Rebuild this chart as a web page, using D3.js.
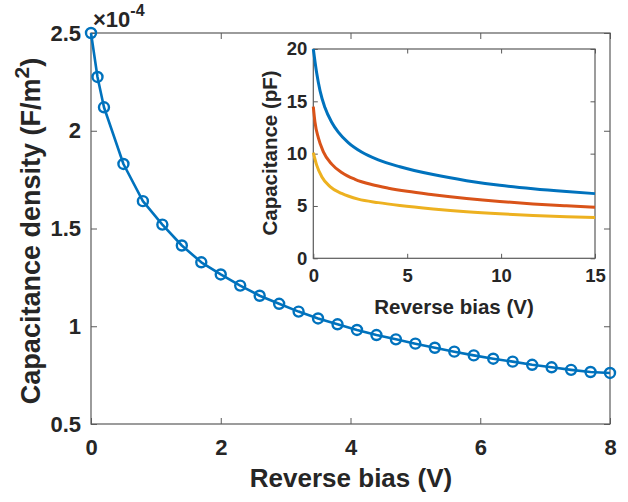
<!DOCTYPE html>
<html>
<head>
<meta charset="utf-8">
<script src="https://cdn.jsdelivr.net/npm/d3@7"></script>
<style>
  html, body { margin: 0; padding: 0; background: #fff; }
  svg { display: block; }
  text { font-family: "Liberation Sans", Arial, Helvetica, sans-serif; font-weight: bold; fill: #262626; }
</style>
</head>
<body>
<svg id="chart" width="628" height="502"></svg>
<script>
// Main plot: capacitance density vs reverse bias (values in units of 1e-4 F/m^2)
const biasV = [0, 0.1, 0.2, 0.5, 0.8, 1.1, 1.4, 1.7, 2.0, 2.3, 2.6, 2.9, 3.2, 3.5, 3.8,
               4.1, 4.4, 4.7, 5.0, 5.3, 5.6, 5.9, 6.2, 6.5, 6.8, 7.1, 7.4, 7.7, 8.0];
const capDensity = [2.50, 2.275, 2.12, 1.83, 1.64, 1.52, 1.413, 1.327, 1.265, 1.208, 1.156,
                    1.115, 1.075, 1.04, 1.010, 0.981, 0.955, 0.933, 0.911, 0.890, 0.870,
                    0.851, 0.834, 0.819, 0.803, 0.790, 0.777, 0.766, 0.761];
const densityExponent = -4;
const mainXTicks = [0, 2, 4, 6, 8];
const mainYTicks = [0.5, 1, 1.5, 2, 2.5];

// Inset: device capacitance (pF) vs reverse bias for three devices
const insetBlueV = [0, 0.18, 0.36, 0.62, 0.98, 1.33, 1.86, 2.57, 3.46, 4.61, 6.38, 8.16, 9.93, 11.7, 13.48, 15];
const insetBlueC = [20.0, 17.7, 16.0, 14.4, 13.0, 12.05, 11.05, 10.15, 9.4, 8.75, 8.0, 7.42, 6.98, 6.65, 6.38, 6.18];
const insetRedV = [0, 0.09, 0.27, 0.53, 0.98, 1.51, 2.22, 3.1, 4.0, 5.0, 6.38, 8.16, 9.93, 11.7, 13.48, 15];
const insetRedC = [14.5, 13.0, 11.5, 10.2, 9.0, 8.2, 7.55, 7.05, 6.7, 6.4, 6.08, 5.72, 5.43, 5.2, 5.02, 4.88];
const insetYellowV = [0, 0.18, 0.45, 0.89, 1.51, 2.39, 3.46, 4.61, 6.38, 8.16, 9.93, 11.7, 13.48, 15];
const insetYellowC = [10.1, 8.9, 7.8, 6.85, 6.2, 5.65, 5.32, 5.05, 4.72, 4.45, 4.25, 4.1, 3.98, 3.9];
const insetXTicks = [0, 5, 10, 15];
const insetYTicks = [0, 5, 10, 15, 20];

const colors = { blue: "#0072BD", red: "#D95319", yellow: "#EDB120" };
const axisColor = "#5a5a5a";

const svg = d3.select("#chart");

// Draws a boxed axes with inward ticks on all four sides
function boxedAxes(g, x, y, xTicks, yTicks, opts) {
  const [x0, x1] = x.range();
  const [y0, y1] = y.range();
  g.append("rect")
    .attr("x", x0).attr("y", y1).attr("width", x1 - x0).attr("height", y0 - y1)
    .attr("fill", "#fff").attr("stroke", "none");

  const style = sel => {
    sel.select(".domain").remove();
    sel.selectAll(".tick line").attr("stroke", axisColor).attr("stroke-width", 1);
  };

  g.append("g").attr("transform", `translate(0,${y0})`)
    .call(d3.axisBottom(x).tickValues(xTicks).tickSizeInner(-opts.tick).tickSizeOuter(0)
      .tickPadding(opts.xPad).tickFormat(d3.format("")))
    .call(style)
    .selectAll("text").style("font-size", opts.tickFont + "px").attr("fill", "#262626");
  g.append("g").attr("transform", `translate(0,${y1})`)
    .call(d3.axisTop(x).tickValues(xTicks).tickSizeInner(-opts.tick).tickSizeOuter(0).tickFormat(""))
    .call(style);
  g.append("g").attr("transform", `translate(${x0},0)`)
    .call(d3.axisLeft(y).tickValues(yTicks).tickSizeInner(-opts.tick).tickSizeOuter(0)
      .tickPadding(opts.yPad).tickFormat(d3.format("")))
    .call(style)
    .selectAll("text").style("font-size", opts.tickFont + "px").attr("fill", "#262626");
  g.append("g").attr("transform", `translate(${x1},0)`)
    .call(d3.axisRight(y).tickValues(yTicks).tickSizeInner(-opts.tick).tickSizeOuter(0).tickFormat(""))
    .call(style);

  g.append("rect")
    .attr("x", x0).attr("y", y1).attr("width", x1 - x0).attr("height", y0 - y1)
    .attr("fill", "none").attr("stroke", axisColor).attr("stroke-width", 1.2);
}

// ---- Main axes ----
const xMain = d3.scaleLinear().domain([0, 8]).range([91, 610]);
const yMain = d3.scaleLinear().domain([0.5, 2.5]).range([424, 33]);
const gMain = svg.append("g");
boxedAxes(gMain, xMain, yMain, mainXTicks, mainYTicks, { tick: 6, xPad: 15, yPad: 10, tickFont: 22 });

const mainPts = biasV.map((v, i) => [v, capDensity[i]]);
gMain.append("path")
  .datum(mainPts)
  .attr("fill", "none").attr("stroke", colors.blue).attr("stroke-width", 2.6)
  .attr("stroke-linejoin", "round")
  .attr("d", d3.line().x(d => xMain(d[0])).y(d => yMain(d[1])));
gMain.selectAll("circle.mk").data(mainPts).join("circle")
  .attr("class", "mk")
  .attr("cx", d => xMain(d[0])).attr("cy", d => yMain(d[1])).attr("r", 5)
  .attr("fill", "none").attr("stroke", colors.blue).attr("stroke-width", 2.4);

// Exponent label above the y axis
const expLabel = gMain.append("text").attr("x", 93).attr("y", 26.5).style("font-size", "22px");
expLabel.append("tspan").text("\u00D7");
expLabel.append("tspan").text("10");
expLabel.append("tspan").attr("dy", -11).style("font-size", "16px").text(String(densityExponent));

// Axis labels
svg.append("text")
  .attr("x", 351).attr("y", 487).attr("text-anchor", "middle")
  .style("font-size", "26px").text("Reverse bias (V)");
const yLab = svg.append("text")
  .attr("transform", "translate(40,231) rotate(-90)").attr("text-anchor", "middle")
  .style("font-size", "27px");
yLab.append("tspan").text("Capacitance density (F/m");
yLab.append("tspan").attr("dy", -11).style("font-size", "21px").text("2");
yLab.append("tspan").attr("dy", 11).text(")");

// ---- Inset axes ----
const xIn = d3.scaleLinear().domain([0, 15]).range([313.3, 595]);
const yIn = d3.scaleLinear().domain([0, 20]).range([258.3, 49]);
const gIn = svg.append("g");
boxedAxes(gIn, xIn, yIn, insetXTicks, insetYTicks, { tick: 4.5, xPad: 11, yPad: 6, tickFont: 18.5 });

const insetSeries = [
  { v: insetBlueV, c: insetBlueC, color: colors.blue },
  { v: insetRedV, c: insetRedC, color: colors.red },
  { v: insetYellowV, c: insetYellowC, color: colors.yellow }
];
const insetLine = d3.line().curve(d3.curveMonotoneX).x(d => xIn(d[0])).y(d => yIn(d[1]));
insetSeries.forEach(s => {
  gIn.append("path")
    .datum(s.v.map((v, i) => [v, s.c[i]]))
    .attr("fill", "none").attr("stroke", s.color).attr("stroke-width", 3)
    .attr("d", insetLine);
});

svg.append("text")
  .attr("x", 454).attr("y", 314).attr("text-anchor", "middle")
  .style("font-size", "20.5px").text("Reverse bias (V)");
svg.append("text")
  .attr("transform", "translate(277,153) rotate(-90)").attr("text-anchor", "middle")
  .style("font-size", "20.5px").text("Capacitance (pF)");
</script>
</body>
</html>
